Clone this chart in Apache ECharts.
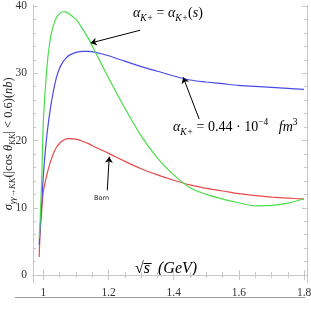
<!DOCTYPE html>
<html>
<head>
<meta charset="utf-8">
<script src="https://cdn.jsdelivr.net/npm/echarts@6/dist/echarts.min.js"></script>
<style>html,body{margin:0;padding:0;background:#fff}#c{width:311px;height:311px}</style>
</head>
<body>
<div id="c"></div>
<script>
// sqrt(s) in GeV
const xs = [0.987, 0.99, 0.995, 1.0, 1.01, 1.02, 1.03, 1.04, 1.05, 1.06, 1.07, 1.08, 1.1, 1.12, 1.14, 1.16, 1.2, 1.25, 1.3, 1.35, 1.4, 1.45, 1.5, 1.55, 1.6, 1.65, 1.7, 1.75, 1.8];
// alpha_K+ = alpha_K+(s)
const greenVals = [5.5, 8.2, 14.5, 23.0, 30.5, 34.8, 37.0, 38.3, 38.9, 39.15, 39.1, 38.8, 38.0, 36.6, 35.0, 33.1, 29.3, 24.8, 20.7, 17.4, 14.9, 13.0, 12.0, 11.3, 10.75, 10.3, 10.35, 10.7, 11.35];
// alpha_K+ = 0.44e-4 fm^3
const blueVals = [4.5, 7.0, 11.0, 15.0, 20.5, 24.3, 27.2, 29.4, 30.8, 31.7, 32.3, 32.7, 33.1, 33.25, 33.25, 33.1, 32.6, 31.8, 31.0, 30.3, 29.6, 29.0, 28.7, 28.45, 28.2, 28.05, 27.9, 27.75, 27.6];
// Born
const redVals = [2.7, 6.5, 9.8, 12.5, 14.8, 16.6, 18.0, 19.0, 19.6, 20.0, 20.25, 20.3, 20.2, 19.9, 19.5, 19.0, 18.1, 16.9, 15.8, 14.9, 14.1, 13.4, 12.9, 12.5, 12.1, 11.8, 11.6, 11.45, 11.3];

const xMajor = [1, 1.2, 1.4, 1.6, 1.8];
const xMinor = [1.05, 1.1, 1.15, 1.25, 1.3, 1.35, 1.45, 1.5, 1.55, 1.65, 1.7, 1.75];
const yMajor = [0, 10, 20, 30, 40];
const yMinor = [2, 4, 6, 8, 12, 14, 16, 18, 22, 24, 26, 28, 32, 34, 36, 38];

// annotation arrows [tail, tip] in data coordinates
const arrowGreen = [[1.297, 36.4], [1.145, 34.5]];
const arrowBlue = [[1.478, 23.2], [1.429, 29.4]];
const arrowBorn = [[1.196, 12.6], [1.202, 17.6]];

const SERIF = "'Liberation Serif','DejaVu Serif',serif";
const frameColor = '#c8c8c8';

function zip(a, b) { return a.map((x, i) => [x, b[i]]); }

function axisSet(kind, pos, ticks, len, withLabel, withLine) {
  return {
    type: 'value', position: pos,
    min: kind === 'x' ? 0.968 : -1.1,
    max: kind === 'x' ? 1.809 : 40.15,
    splitLine: { show: false },
    axisLine: { show: withLine, lineStyle: { color: frameColor, width: 1 } },
    axisTick: { show: true, inside: true, length: len, customValues: ticks, lineStyle: { color: frameColor, width: 1 } },
    axisLabel: withLabel ? {
      show: true, customValues: ticks, color: '#333', fontFamily: SERIF, fontSize: 11.5,
      margin: kind === 'x' ? 4 : 6
    } : { show: false }
  };
}

function arrowLine(seg) {
  return [{ coord: seg[0] }, { coord: seg[1] }];
}

const chart = echarts.init(document.getElementById('c'), null, { renderer: 'canvas' });
function styles(main, small, lh) {
  return {
    it: { fontFamily: SERIF, fontStyle: 'italic', fontSize: main, lineHeight: lh, color: '#222' },
    rm: { fontFamily: SERIF, fontSize: main, lineHeight: lh, color: '#222' },
    sub: { fontFamily: SERIF, fontStyle: 'italic', fontSize: small, verticalAlign: 'bottom', lineHeight: lh, color: '#222' },
    sup: { fontFamily: SERIF, fontSize: small, verticalAlign: 'top', lineHeight: lh, color: '#222' }
  };
}

chart.setOption({
  animation: false,
  backgroundColor: '#fff',
  grid: { left: 33, right: 4, top: 5, bottom: 28.5, containLabel: false, outerBoundsMode: 'none' },
  xAxis: [
    axisSet('x', 'bottom', xMajor, 5, true, true),
    axisSet('x', 'bottom', xMinor, 3, false, false),
    axisSet('x', 'top', xMajor, 5, false, true),
    axisSet('x', 'top', xMinor, 3, false, false)
  ],
  yAxis: [
    Object.assign(axisSet('y', 'left', yMajor, 5, true, true), {
      name: '{it|σ}{sub|γγ→KK}{rm|(|cos }{it|θ}{sub|KK}{rm|| < 0.6)(}{it|nb}{rm|)}',
      nameLocation: 'middle', nameRotate: 90, nameGap: 16, nameMoveOverlap: false,
      nameTextStyle: { rich: styles(12.5, 8.5, 17) }
    }),
    axisSet('y', 'left', yMinor, 3, false, false),
    axisSet('y', 'right', yMajor, 5, false, true),
    axisSet('y', 'right', yMinor, 3, false, false)
  ],
  series: [
    {
      type: 'line', name: 'Born', data: zip(xs, redVals), smooth: 0.3, showSymbol: false,
      lineStyle: { color: '#e84a4a', width: 1.2 }, z: 3,
      markLine: {
        silent: true, symbol: ['none', 'arrow'], symbolSize: 6, animation: false,
        label: { show: false }, lineStyle: { color: '#000', width: 1, type: 'solid' },
        data: [arrowLine(arrowBorn), arrowLine(arrowBlue), arrowLine(arrowGreen)]
      }
    },
    {
      type: 'line', name: 'alpha const', data: zip(xs, blueVals), smooth: 0.3, showSymbol: false,
      lineStyle: { color: '#4a4ae8', width: 1.2 }, z: 3
    },
    {
      type: 'line', name: 'alpha(s)', data: zip(xs, greenVals), smooth: 0.3, showSymbol: false,
      lineStyle: { color: '#4ade4a', width: 1.2 }, z: 4
    }
  ],
  graphic: [
    {
      type: 'text', left: 133, top: 6,
      style: { text: '{it|α}{sub|K+}{rm| = }{it|α}{sub|K+}{rm|(}{it|s}{rm|)}', rich: styles(14, 9.5, 20) }
    },
    {
      type: 'text', left: 173, top: 117,
      style: { text: '{it|α}{sub|K+}{rm| = 0.44 · 10}{sup|−4}{rm|   }{it|fm}{sup|3}', rich: styles(14, 9.5, 20) }
    },
    {
      type: 'text', left: 94, top: 195,
      style: { text: 'Born', fontFamily: "'DejaVu Sans',sans-serif", fontSize: 6.5, fill: '#222' }
    },
    {
      type: 'text', left: 135, top: 261,
      style: { text: '{rm|√}{it|s̅  (GeV)}', rich: {
        it: { fontFamily: SERIF, fontStyle: 'italic', fontSize: 16, color: '#222' },
        rm: { fontFamily: SERIF, fontSize: 16, color: '#222' } } }
    },
    {
      type: 'line', shape: { x1: 15, y1: 297.5, x2: 305, y2: 297.5 },
      style: { stroke: '#999', lineWidth: 1 }
    }
  ]
});
</script>
</body>
</html>
